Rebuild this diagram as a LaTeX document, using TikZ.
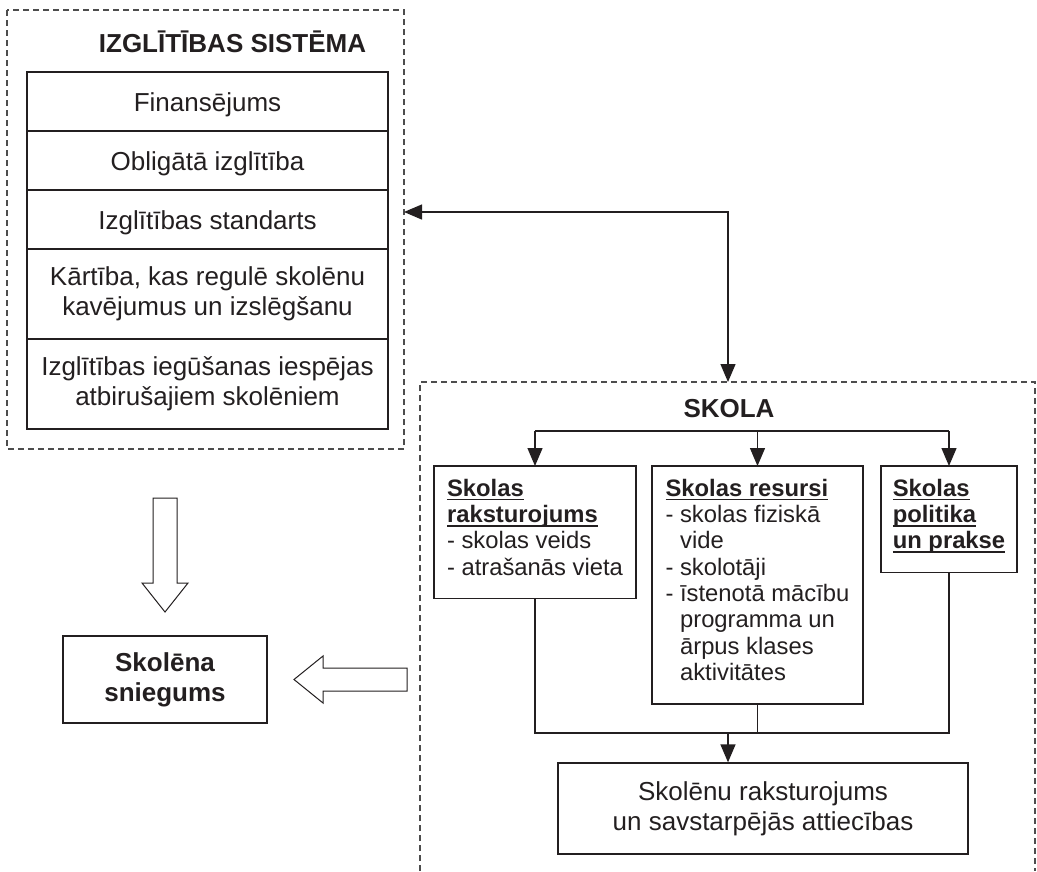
\documentclass[tikz,border=0pt]{standalone}
\usepackage{fontspec}
\setmainfont{Liberation Sans}
\usetikzlibrary{arrows.meta,positioning}
\definecolor{ink}{HTML}{231F20}
\definecolor{framegray}{HTML}{4D4D4D}
\newsavebox\ulbox
\newcommand\headul[1]{\sbox\ulbox{#1}\rlap{\rule[-4pt]{\wd\ulbox}{1.7pt}}\usebox\ulbox}
\newcommand\subhead[1]{\textbf{\headul{#1}}}
\newcommand\bodyfont{\fontsize{26}{30}\selectfont}
\newcommand\subfont{\fontsize{23.8}{26.3}\selectfont}
\begin{document}
\begin{tikzpicture}[x=1pt,y=-1pt,
    frame/.style={draw=framegray,line width=1.2pt,dash pattern=on 6pt off 4pt},
    rowbox/.style={draw=ink,text=ink,line width=1.3pt,minimum width=361pt,outer sep=0pt,align=center,font=\bodyfont},
    shortrow/.style={rowbox,minimum height=59pt,text height=19pt,text depth=0pt},
    tallrow/.style={rowbox,minimum height=90pt},
    subbox/.style={draw=ink,text=ink,line width=1.3pt,anchor=north west,align=left,inner xsep=4pt,inner ysep=13pt,outer sep=0pt,font=\subfont,execute at end node={\rule[-10.5pt]{0pt}{10.5pt}}},
    title/.style={text=ink,font=\bodyfont\bfseries,anchor=base},
    link/.style={draw=ink,line width=1.3pt},
    arr/.style={link,-{Triangle[length=18pt,width=15pt]}},
    dblarr/.style={link,{Triangle[length=18pt,width=15pt]}-{Triangle[length=18pt,width=15pt]}},
    hollow/.style={draw=ink,line width=1pt,fill=white,line join=miter}]
    \useasboundingbox (0,0) rectangle (1037,871);
    \draw[frame] (7,10) rectangle (404,449);
    \draw[frame] (420,871) |- (1035,382) -- (1035,871);
    \node[title] (systitle) at (232.5,52.5) {IZGLĪTĪBAS SISTĒMA};
    \node[shortrow,anchor=north] (fin) at (207.5,72) {Finansējums};
    \node[shortrow,below=0pt of fin] (obl) {Obligātā izglītība};
    \node[shortrow,below=0pt of obl] (std) {Izglītības standarts};
    \node[tallrow,below=0pt of std] (abs) {Kārtība, kas regulē skolēnu\\kavējumus un izslēgšanu};
    \node[tallrow,below=0pt of abs] (drop) {Izglītības iegūšanas iespējas\\atbirušajiem skolēniem};
    \node[draw=ink,text=ink,line width=2.4pt,minimum width=204pt,minimum height=87pt,align=center,font=\bodyfont\bfseries] (perf) at (165,679.5) {Skolēna\\sniegums};
    \draw[hollow] (153,498) -- (177,498) -- (177,583) -- (188,583) -- (165,612) -- (142,583) -- (153,583) -- cycle;
    \draw[hollow] (407,668) -- (407,691) -- (323,691) -- (323,703) -- (294,679.5) -- (323,656) -- (323,668) -- cycle;
    \node[title] (skola) at (729,417) {SKOLA};
    \node[subbox,minimum width=202pt] (char) at (434,466) {\subhead{Skolas}\\\subhead{raksturojums}\\- skolas veids\\- atrašanās vieta};
    \node[subbox,minimum width=211pt] (res) at (652,466) {\subhead{Skolas resursi}\\- skolas fiziskā\\\phantom{- }vide\\- skolotāji\\- īstenotā mācību\\\phantom{- }programma un\\\phantom{- }ārpus klases\\\phantom{- }aktivitātes};
    \node[subbox,minimum width=136pt] (pol) at (881,466) {\subhead{Skolas}\\\subhead{politika}\\\subhead{un prakse}};
    \node[draw=ink,text=ink,line width=1.3pt,minimum width=410pt,minimum height=91pt,align=center,font=\bodyfont] (stud) at (763,808.5) {Skolēnu raksturojums\\un savstarpējās attiecības};
    \coordinate (sysin) at (404,212);
    \coordinate (skolain) at (728,382);
    \draw[dblarr] (sysin) -| (skolain);
    \coordinate (split) at (0,431);
    \draw[link] (char.north |- split) -- (pol.north |- split);
    \foreach \b in {char,res,pol}
        \draw[arr] (\b.north |- split) -- (\b.north);
    \coordinate (join) at (728,733);
    \draw[link] (char.south) |- (pol.south |- join) -- (pol.south);
    \draw[link] (res.south) -- (res.south |- join);
    \draw[arr] (join) -- (join |- stud.north);
\end{tikzpicture}
\end{document}
